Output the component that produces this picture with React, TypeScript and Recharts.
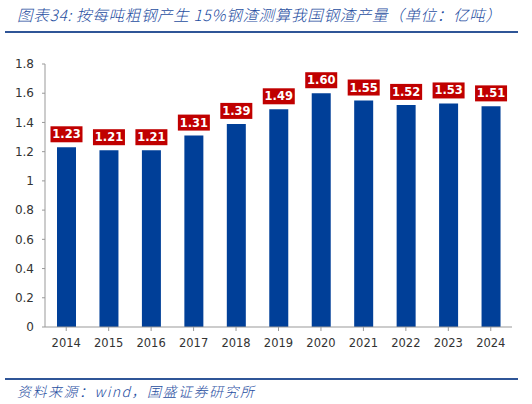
import { Bar, BarChart, XAxis, YAxis } from "recharts"

const years = ["2014", "2015", "2016", "2017", "2018", "2019", "2020", "2021", "2022", "2023", "2024"]
const slag = [1.23, 1.21, 1.21, 1.31, 1.39, 1.49, 1.6, 1.55, 1.52, 1.53, 1.51]
const yTicks = [0, 0.2, 0.4, 0.6, 0.8, 1, 1.2, 1.4, 1.6, 1.8]

const data = years.map((year, i) => ({ year, value: slag[i] }))

const BLUE = "#003F98"
const RED = "#C00000"
const TEXT_BLUE = "#1F4E9F"

// red box with white value above each bar
function ValueTag(props: any) {
    const { x, y, width, value } = props
    const cx = x + width / 2
    return (
        <g>
            <rect x={cx - 16} y={y - 21} width={32} height={16} fill={RED} />
            <text
                x={cx}
                y={y - 13}
                textAnchor="middle"
                dominantBaseline="central"
                fill="#fff"
                fontSize={11.5}
                fontWeight="bold"
                fontFamily="DejaVu Sans"
            >
                {Number(value).toFixed(2)}
            </text>
        </g>
    )
}

export default function App() {
    return (
        <div style={{ position: "absolute", left: 0, top: 0, width: 532, height: 404, background: "#fff" }}>
            <div
                style={{
                    position: "absolute",
                    left: 17,
                    top: 3,
                    fontFamily: "Noto Sans CJK SC",
                    fontStyle: "italic",
                    fontWeight: 300,
                    fontSize: 15.5,
                    color: TEXT_BLUE,
                    whiteSpace: "nowrap",
                    letterSpacing: 0.7,
                }}
            >
                图表34:  按每吨粗钢产生 15%钢渣测算我国钢渣产量（单位：亿吨）
            </div>
            <div style={{ position: "absolute", left: 5, top: 31, width: 513, height: 2, background: "#2F5597" }} />

            <div style={{ position: "absolute", left: 0, top: 0 }}>
                <BarChart
                    width={532}
                    height={360}
                    data={data}
                    margin={{ top: 64, right: 20, left: 0, bottom: 0 }}
                    barCategoryGap={0}
                >
                    <XAxis
                        dataKey="year"
                        height={33}
                        stroke="#999"
                        tickSize={4}
                        tickMargin={8}
                        interval={0}
                        tick={{ fill: "#333", fontSize: 11.5, fontFamily: "DejaVu Sans" }}
                    />
                    <YAxis
                        width={45}
                        domain={[0, 1.8]}
                        ticks={yTicks}
                        interval={0}
                        stroke="#999"
                        tickSize={3}
                        tickMargin={8}
                        tick={{ fill: "#333", fontSize: 12, fontFamily: "DejaVu Sans" }}
                    />
                    <Bar
                        dataKey="value"
                        fill={BLUE}
                        barSize={19}
                        isAnimationActive={false}
                        label={<ValueTag />}
                    />
                </BarChart>
            </div>

            <div style={{ position: "absolute", left: 5, top: 378, width: 513, height: 1.5, background: "#2F5597" }} />
            <div
                style={{
                    position: "absolute",
                    left: 17,
                    top: 381,
                    fontFamily: "Noto Sans CJK SC",
                    fontStyle: "italic",
                    fontWeight: 300,
                    fontSize: 14,
                    color: TEXT_BLUE,
                    whiteSpace: "nowrap",
                    letterSpacing: 1.5,
                }}
            >
                资料来源：wind，国盛证券研究所
            </div>
        </div>
    )
}
